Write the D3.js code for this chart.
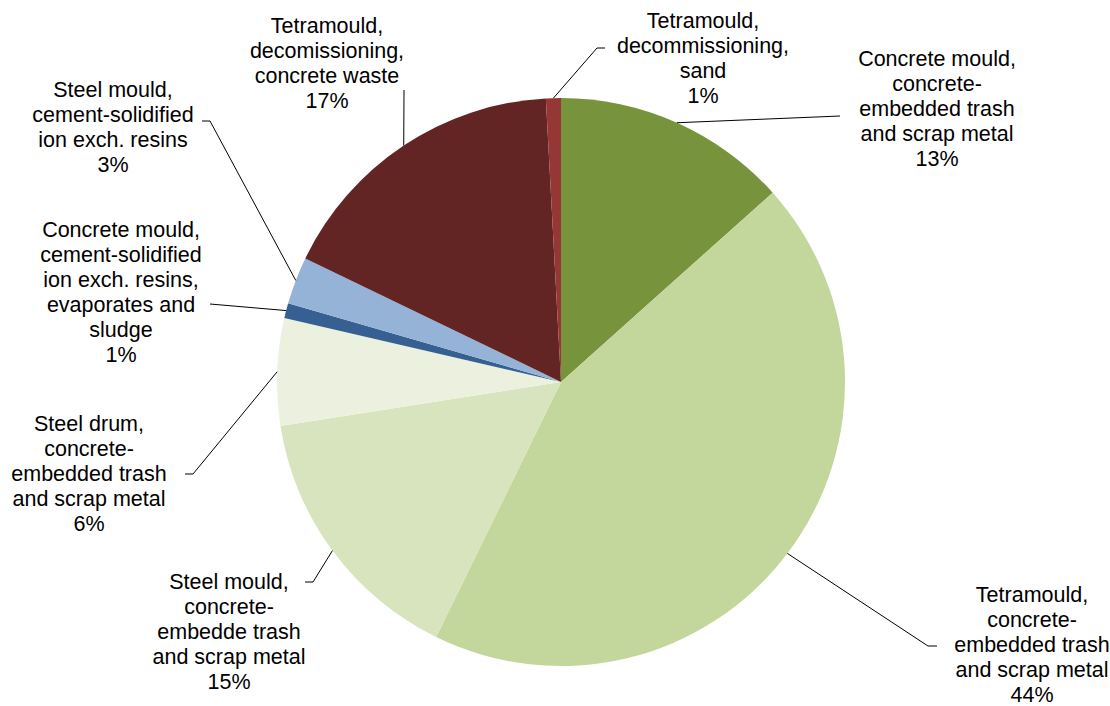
<!DOCTYPE html>
<html>
<head>
<meta charset="utf-8">
<script src="https://cdn.jsdelivr.net/npm/d3@7/dist/d3.min.js"></script>
<style>
  html, body { margin: 0; padding: 0; background: #fff; }
  svg { display: block; }
  text { font-family: "Liberation Sans", Arial, sans-serif; fill: #000; }
</style>
</head>
<body>
<svg id="chart" width="1110" height="706"></svg>
<script>
// ---- data ----
const categories = [
  ["Concrete mould,", "concrete-", "embedded trash", "and scrap metal"],
  ["Tetramould,", "concrete-", "embedded trash", "and scrap metal"],
  ["Steel mould,", "concrete-", "embedde trash", "and scrap metal"],
  ["Steel drum,", "concrete-", "embedded trash", "and scrap metal"],
  ["Concrete mould,", "cement-solidified", "ion exch. resins,", "evaporates and", "sludge"],
  ["Steel mould,", "cement-solidified", "ion exch. resins"],
  ["Tetramould,", "decomissioning,", "concrete waste"],
  ["Tetramould,", "decommissioning,", "sand"]
];
const values = [13.4, 43.9, 15.3, 6.1, 0.85, 2.7, 17.0, 0.85];
const percentLabels = ["13%", "44%", "15%", "6%", "1%", "3%", "17%", "1%"];

// ---- layout / style (not data) ----
const colors = ["#77933c", "#c3d69b", "#d7e4bd", "#ebf1de", "#376092", "#95b3d7", "#632523", "#953735"];
const cx = 561, cy = 382, radius = 284;
const fontSize = 21.5, lineH = 25;
// label block: centre x, centre y of first line
const labelPos = [[937, 58], [1032, 594], [229, 581], [89, 423], [121, 229], [113, 89], [327, 25], [703, 20]];
// leader path points after the pie-edge anchor
const leaderPts = [
  [[840, 116]],
  [[928, 646], [937, 646]],
  [[313, 582], [305, 582]],
  [[193, 474], [185, 474]],
  [[210, 304]],
  [[210, 121], [202, 121]],
  [[404, 90]],
  [[597, 48], [605, 48]]
];

const svg = d3.select("#chart");
const pie = d3.pie().sort(null).value(d => d);
const arcs = pie(values);
const arc = d3.arc().innerRadius(0).outerRadius(radius);
const edge = d3.arc().innerRadius(radius).outerRadius(radius);

const g = svg.append("g").attr("transform", `translate(${cx},${cy})`);
g.selectAll("path.slice")
  .data(arcs)
  .join("path")
  .attr("class", "slice")
  .attr("d", arc)
  .attr("fill", (d, i) => colors[i]);

// leader lines
const line = d3.line();
svg.selectAll("path.leader")
  .data(arcs)
  .join("path")
  .attr("class", "leader")
  .attr("d", (d, i) => {
    const c = edge.centroid(d);
    const start = [cx + c[0], cy + c[1]];
    return line([start, ...leaderPts[i]]);
  })
  .attr("fill", "none")
  .attr("stroke", "#000")
  .attr("stroke-width", 1);

// labels
const labels = svg.selectAll("text.lbl")
  .data(arcs)
  .join("text")
  .attr("class", "lbl")
  .attr("text-anchor", "middle")
  .attr("font-size", fontSize)
  .attr("x", (d, i) => labelPos[i][0])
  .attr("y", (d, i) => labelPos[i][1]);

labels.each(function (d, i) {
  const t = d3.select(this);
  const lines = categories[i].concat([percentLabels[i]]);
  lines.forEach((s, k) => {
    t.append("tspan")
      .attr("x", labelPos[i][0])
      .attr("y", labelPos[i][1] + k * lineH)
      .attr("dy", "0.35em")
      .text(s);
  });
});
</script>
</body>
</html>
